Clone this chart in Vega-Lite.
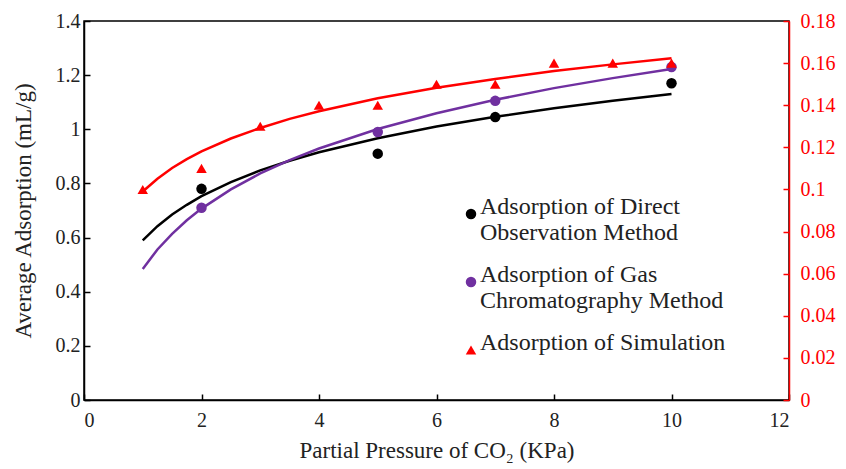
{
  "$schema": "https://vega.github.io/schema/vega-lite/v6.json",
  "width": 705,
  "height": 379,
  "autosize": "none",
  "padding": {"left": 84, "top": 21, "right": 57, "bottom": 69},
  "background": "white",
  "config": {
    "font": "Liberation Serif",
    "view": {"stroke": "black", "strokeWidth": 1.5},
    "axis": {"grid": false, "labelFont": "Liberation Serif", "titleFont": "Liberation Serif", "labelFontSize": 20, "titleFontSize": 23, "titleFontWeight": "normal", "labelColor": "#222", "titleColor": "#222", "domainWidth": 1.5, "tickWidth": 1.5, "tickSize": -6, "format": "~g"},
    "legend": {"labelFont": "Liberation Serif", "labelFontSize": 24, "labelColor": "#222", "labelLimit": 500}
  },
  "datasets": {
    "curves": [
      {"x": 1, "y": 0.590, "series": "Direct"},
      {"x": 1.25, "y": 0.642, "series": "Direct"},
      {"x": 1.5, "y": 0.685, "series": "Direct"},
      {"x": 1.75, "y": 0.721, "series": "Direct"},
      {"x": 2, "y": 0.753, "series": "Direct"},
      {"x": 2.5, "y": 0.805, "series": "Direct"},
      {"x": 3, "y": 0.848, "series": "Direct"},
      {"x": 3.5, "y": 0.884, "series": "Direct"},
      {"x": 4, "y": 0.915, "series": "Direct"},
      {"x": 5, "y": 0.967, "series": "Direct"},
      {"x": 6, "y": 1.010, "series": "Direct"},
      {"x": 7, "y": 1.046, "series": "Direct"},
      {"x": 8, "y": 1.078, "series": "Direct"},
      {"x": 9, "y": 1.105, "series": "Direct"},
      {"x": 10, "y": 1.130, "series": "Direct"},
      {"x": 1, "y": 0.484, "series": "Gas"},
      {"x": 1.25, "y": 0.556, "series": "Gas"},
      {"x": 1.5, "y": 0.614, "series": "Gas"},
      {"x": 1.75, "y": 0.664, "series": "Gas"},
      {"x": 2, "y": 0.707, "series": "Gas"},
      {"x": 2.5, "y": 0.778, "series": "Gas"},
      {"x": 3, "y": 0.837, "series": "Gas"},
      {"x": 3.5, "y": 0.886, "series": "Gas"},
      {"x": 4, "y": 0.929, "series": "Gas"},
      {"x": 5, "y": 1.001, "series": "Gas"},
      {"x": 6, "y": 1.059, "series": "Gas"},
      {"x": 7, "y": 1.109, "series": "Gas"},
      {"x": 8, "y": 1.152, "series": "Gas"},
      {"x": 9, "y": 1.189, "series": "Gas"},
      {"x": 10, "y": 1.223, "series": "Gas"},
      {"x": 1, "y": 0.0990, "series": "Sim"},
      {"x": 1.25, "y": 0.1051, "series": "Sim"},
      {"x": 1.5, "y": 0.1102, "series": "Sim"},
      {"x": 1.75, "y": 0.1144, "series": "Sim"},
      {"x": 2, "y": 0.1181, "series": "Sim"},
      {"x": 2.5, "y": 0.1242, "series": "Sim"},
      {"x": 3, "y": 0.1292, "series": "Sim"},
      {"x": 3.5, "y": 0.1335, "series": "Sim"},
      {"x": 4, "y": 0.1371, "series": "Sim"},
      {"x": 5, "y": 0.1433, "series": "Sim"},
      {"x": 6, "y": 0.1483, "series": "Sim"},
      {"x": 7, "y": 0.1525, "series": "Sim"},
      {"x": 8, "y": 0.1562, "series": "Sim"},
      {"x": 9, "y": 0.1594, "series": "Sim"},
      {"x": 10, "y": 0.1623, "series": "Sim"}
    ],
    "points": [
      {"x": 2, "y": 0.78, "series": "Direct"},
      {"x": 5, "y": 0.91, "series": "Direct"},
      {"x": 7, "y": 1.045, "series": "Direct"},
      {"x": 10, "y": 1.17, "series": "Direct"},
      {"x": 2, "y": 0.71, "series": "Gas"},
      {"x": 5, "y": 0.99, "series": "Gas"},
      {"x": 7, "y": 1.105, "series": "Gas"},
      {"x": 10, "y": 1.23, "series": "Gas"},
      {"x": 1, "y": 0.10, "series": "Sim"},
      {"x": 2, "y": 0.11, "series": "Sim"},
      {"x": 3, "y": 0.13, "series": "Sim"},
      {"x": 4, "y": 0.14, "series": "Sim"},
      {"x": 5, "y": 0.14, "series": "Sim"},
      {"x": 6, "y": 0.15, "series": "Sim"},
      {"x": 7, "y": 0.15, "series": "Sim"},
      {"x": 8, "y": 0.16, "series": "Sim"},
      {"x": 9, "y": 0.16, "series": "Sim"},
      {"x": 10, "y": 0.16, "series": "Sim"}
    ]
  },
  "encoding": {
    "x": {"field": "x", "type": "quantitative", "scale": {"domain": [0, 12], "nice": false}, "axis": {"values": [0, 2, 4, 6, 8, 10, 12], "title": "Partial Pressure of CO₂ (KPa)", "domainColor": "black", "tickColor": "black", "labelPadding": 16, "titlePadding": 9}}
  },
  "layer": [
    {
      "encoding": {
        "y": {"field": "y", "type": "quantitative", "scale": {"domain": [0, 1.4], "nice": false}, "axis": {"values": [0, 0.2, 0.4, 0.6, 0.8, 1, 1.2, 1.4], "title": "Average Adsorption (mL/g)", "domainColor": "black", "tickColor": "black", "labelPadding": 10, "titlePadding": 20}}
      },
      "layer": [
        {
          "data": {"name": "curves"},
          "transform": [{"filter": "datum.series !== 'Sim'"}],
          "mark": {"type": "line", "strokeWidth": 2.5},
          "encoding": {
            "stroke": {"field": "series", "type": "nominal", "scale": {"domain": ["Sim", "Direct", "Gas"], "range": ["#FF0000", "#000000", "#7030A0"]}, "legend": null}
          }
        },
        {
          "data": {"name": "points"},
          "transform": [{"filter": "datum.series !== 'Sim'"}],
          "mark": {"type": "point", "filled": true, "opacity": 1, "size": 110},
          "encoding": {
            "color": {"field": "series", "type": "nominal", "scale": {"domain": ["Direct", "Gas", "Sim"], "range": ["#000000", "#7030A0", "#FF0000"]}, "legend": {"title": null, "orient": "none", "legendX": 375, "legendY": 181, "padding": 0, "rowPadding": 18, "labelOffset": -3, "symbolSize": 110, "labelBaseline": "alphabetic", "labelExpr": "datum.value === 'Direct' ? ['Adsorption of Direct', 'Observation Method'] : datum.value === 'Gas' ? ['Adsorption of Gas', 'Chromatography Method'] : 'Adsorption of Simulation'"}},
            "shape": {"field": "series", "type": "nominal", "scale": {"domain": ["Direct", "Gas", "Sim"], "range": ["circle", "circle", "triangle-up"]}, "legend": {"title": null, "orient": "none", "legendX": 375, "legendY": 181, "padding": 0, "rowPadding": 18, "labelOffset": -3, "symbolSize": 110, "labelBaseline": "alphabetic", "labelExpr": "datum.value === 'Direct' ? ['Adsorption of Direct', 'Observation Method'] : datum.value === 'Gas' ? ['Adsorption of Gas', 'Chromatography Method'] : 'Adsorption of Simulation'"}}
          }
        }
      ]
    },
    {
      "encoding": {
        "y": {"field": "y", "type": "quantitative", "scale": {"domain": [0, 0.18], "nice": false}, "axis": {"orient": "right", "values": [0, 0.02, 0.04, 0.06, 0.08, 0.1, 0.12, 0.14, 0.16, 0.18], "title": null, "domainColor": "#FF0000", "tickColor": "#FF0000", "labelColor": "#FF0000", "labelPadding": 17}}
      },
      "layer": [
        {
          "data": {"name": "curves"},
          "transform": [{"filter": "datum.series === 'Sim'"}],
          "mark": {"type": "line", "strokeWidth": 2.5},
          "encoding": {
            "stroke": {"field": "series", "type": "nominal", "legend": null}
          }
        },
        {
          "data": {"name": "points"},
          "transform": [{"filter": "datum.series === 'Sim'"}],
          "mark": {"type": "point", "filled": true, "opacity": 1, "size": 110},
          "encoding": {
            "color": {"field": "series", "type": "nominal"},
            "shape": {"field": "series", "type": "nominal"}
          }
        }
      ]
    }
  ],
  "resolve": {"scale": {"y": "independent"}}
}
